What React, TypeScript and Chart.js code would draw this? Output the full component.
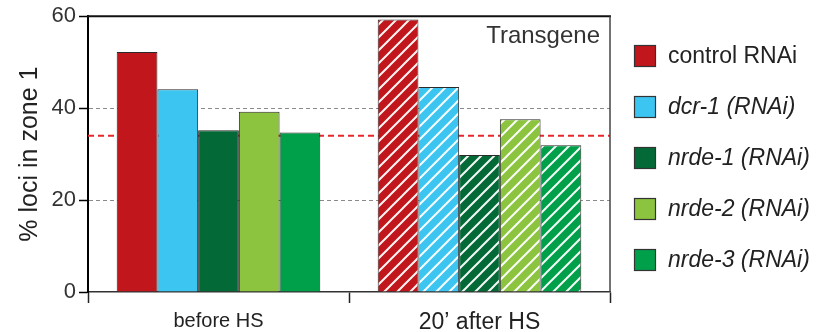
import React, { useEffect, useRef } from "react";
import { Chart, registerables } from "chart.js";

Chart.register(...registerables);

const categories = ["before HS", "20\u2019 after HS"];
const seriesLabels = ["control RNAi", "dcr-1 (RNAi)", "nrde-1 (RNAi)", "nrde-2 (RNAi)", "nrde-3 (RNAi)"];
const seriesItalic = [false, true, true, true, true];
const seriesColors = ["#C1161C", "#3DC5F2", "#036A37", "#8CC43F", "#00A04B"];
const controlRNAi = [52.2, 59.3];
const dcr1 = [44.1, 44.6];
const nrde1 = [35.2, 29.8];
const nrde2 = [39.2, 37.6];
const nrde3 = [34.7, 31.9];
const seriesValues = [controlRNAi, dcr1, nrde1, nrde2, nrde3];
const yTicks = [0, 20, 40, 60];
const referenceLevel = 34;
const panelTitle = "Transgene";
const yTitle = "% loci in zone 1";

const FONT = "'Liberation Sans', Arial, Helvetica, sans-serif";

function makeHatch(color: string): CanvasPattern | string {
  const s = 13;
  const c = document.createElement("canvas");
  c.width = s;
  c.height = s;
  const g = c.getContext("2d");
  if (!g) return color;
  g.fillStyle = color;
  g.fillRect(0, 0, s, s);
  g.strokeStyle = "rgba(255,255,255,0.95)";
  g.lineWidth = 2;
  g.beginPath();
  g.moveTo(0, s);
  g.lineTo(s, 0);
  g.moveTo(-s / 2, s / 2);
  g.lineTo(s / 2, -s / 2);
  g.moveTo(s / 2, s + s / 2);
  g.lineTo(s + s / 2, s / 2);
  g.stroke();
  const p = g.createPattern(c, "repeat");
  return p || color;
}

export default function App() {
  const ref = useRef<HTMLCanvasElement | null>(null);

  useEffect(() => {
    document.body.style.margin = "0";
    const canvas = ref.current;
    if (!canvas) return;

    const overlay = {
      id: "overlay",
      beforeDatasetsDraw(chart: any) {
        const { ctx, chartArea } = chart;
        const y = chart.scales.y.getPixelForValue(referenceLevel);
        ctx.save();
        ctx.strokeStyle = "#E8262B";
        ctx.lineWidth = 2;
        ctx.setLineDash([6, 4]);
        ctx.beginPath();
        ctx.moveTo(chartArea.left, y);
        ctx.lineTo(chartArea.right, y);
        ctx.stroke();
        ctx.restore();
      },
      afterDraw(chart: any) {
        const { ctx, chartArea } = chart;
        ctx.save();
        ctx.setLineDash([]);
        ctx.strokeStyle = "#111";
        ctx.lineWidth = 2;
        ctx.beginPath();
        ctx.moveTo(chartArea.left - 1, chartArea.top);
        ctx.lineTo(chartArea.right + 1, chartArea.top);
        ctx.stroke();
        ctx.strokeStyle = "#444";
        ctx.lineWidth = 1.5;
        ctx.beginPath();
        ctx.moveTo(chartArea.right, chartArea.top);
        ctx.lineTo(chartArea.right, chartArea.bottom);
        ctx.stroke();
        ctx.fillStyle = "#333";
        ctx.font = `24px ${FONT}`;
        ctx.textAlign = "right";
        ctx.textBaseline = "middle";
        ctx.fillText(panelTitle, chartArea.right - 10, chartArea.top + 20);
        const lx = chartArea.right + 24;
        seriesLabels.forEach((lab, i) => {
          const cy = 56 + i * 51;
          ctx.fillStyle = seriesColors[i];
          ctx.fillRect(lx, cy - 11, 22, 22);
          ctx.strokeStyle = "#333";
          ctx.lineWidth = 1.2;
          ctx.strokeRect(lx + 0.5, cy - 10.5, 21, 21);
          ctx.fillStyle = "#222";
          ctx.font = `${seriesItalic[i] ? "italic " : ""}23px ${FONT}`;
          ctx.textAlign = "left";
          ctx.textBaseline = "middle";
          ctx.fillText(lab, lx + 34, cy + 1);
        });
        ctx.restore();
      },
    };

    const datasets = seriesLabels.map((lab, i) => ({
      label: lab,
      data: seriesValues[i],
      backgroundColor: [seriesColors[i], makeHatch(seriesColors[i])],
      borderColor: "#2a2a2a",
      borderWidth: 1,
      categoryPercentage: 0.78,
      barPercentage: 1.0,
    }));

    const chart = new Chart(canvas, {
      type: "bar",
      data: { labels: categories, datasets: datasets as any },
      plugins: [overlay],
      options: {
        responsive: false,
        animation: false,
        layout: { padding: { left: 15, right: 208, top: 16, bottom: 0 } },
        plugins: { legend: { display: false }, tooltip: { enabled: false } },
        scales: {
          x: {
            afterFit: (s: any) => {
              s.height = 40;
            },
            border: { display: true, color: "#333", width: 1.5 },
            grid: {
              display: true,
              drawOnChartArea: false,
              drawTicks: true,
              tickLength: 11,
              tickColor: "#222",
              tickWidth: 1.5,
            },
            ticks: {
              color: "#222",
              padding: 6,
              font: (ctx: any) => ({ family: FONT, size: ctx.index === 0 ? 20 : 23 }),
            },
          },
          y: {
            min: 0,
            max: 60,
            afterFit: (s: any) => {
              s.width = 73;
            },
            afterBuildTicks: (s: any) => {
              s.ticks = yTicks.map((v) => ({ value: v }));
            },
            border: { display: true, color: "#000", width: 2, dash: [4, 3] },
            grid: {
              display: true,
              color: (ctx: any) =>
                ctx.tick && (ctx.tick.value === 20 || ctx.tick.value === 40) ? "#8a8a8a" : "rgba(0,0,0,0)",
              lineWidth: 1,
              drawTicks: true,
              tickLength: 9,
              tickColor: "#000",
              tickWidth: 1.5,
              tickBorderDash: [],
            },
            ticks: {
              color: "#333",
              padding: 3,
              font: { family: FONT, size: 22 },
            },
            title: {
              display: true,
              text: yTitle,
              color: "#222",
              font: { family: FONT, size: 25 },
              padding: 0,
            },
          },
        },
      },
    });
    return () => chart.destroy();
  }, []);

  return (
    <div style={{ width: 818, height: 332 }}>
      <canvas ref={ref} width={818} height={332} />
    </div>
  );
}
